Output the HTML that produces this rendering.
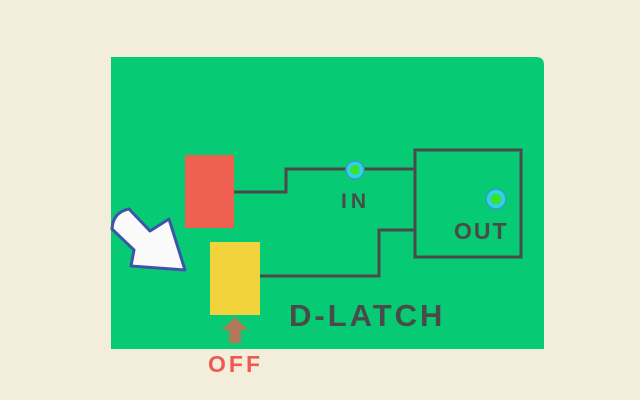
<!DOCTYPE html>
<html><head><style>
body{margin:0;width:640px;height:400px;background:#f3eedc;overflow:hidden}
svg{display:block}
text{font-family:"Liberation Sans",sans-serif;font-weight:bold}
</style></head><body>
<svg width="640" height="400" viewBox="0 0 640 400">
<path d="M111 57 H536 Q544 57 544 65 V349 H111 Z" fill="#06cb74"/>
<rect x="185" y="155" width="49" height="73" fill="#ee6150"/>
<rect x="210" y="242" width="50" height="73" fill="#f1d43c"/>
<g fill="none" stroke="#4a4a48" stroke-width="3">
<polyline points="234,192 286,192 286,169 415,169"/>
<polyline points="260,276 379,276 379,230 415,230"/>
<rect x="415" y="150" width="106" height="107"/>
</g>
<circle cx="355" cy="170" r="9" fill="#2ad4f0" stroke="#3a9cb0" stroke-width="1.5"/>
<circle cx="355" cy="170" r="5" fill="#3ee030"/>
<circle cx="496" cy="199" r="10" fill="#2ad4f0" stroke="#3a9cb0" stroke-width="1.5"/>
<circle cx="496" cy="199" r="5.5" fill="#3ee030"/>
<text x="341" y="208" font-size="21" fill="#4a4a48" letter-spacing="4">IN</text>
<text x="454" y="239" font-size="23" fill="#4a4a48" letter-spacing="2">OUT</text>
<text x="289" y="326" font-size="31" fill="#4a4a48" letter-spacing="3">D-LATCH</text>
<path d="M112 229 Q113 212 129 209 L150 231 L169 219 L185 270 L131 266 L134 250 Z" fill="#fafafa" stroke="#3c55a8" stroke-width="3" stroke-linejoin="round"/>
<path d="M235 317 L248 330 L241 330 L241 343 L229 343 L229 330 L222 330 Z" fill="#b07a5a"/>
<text x="208" y="372" font-size="23" fill="#ee5a50" letter-spacing="3">OFF</text>
</svg>
</body></html>
